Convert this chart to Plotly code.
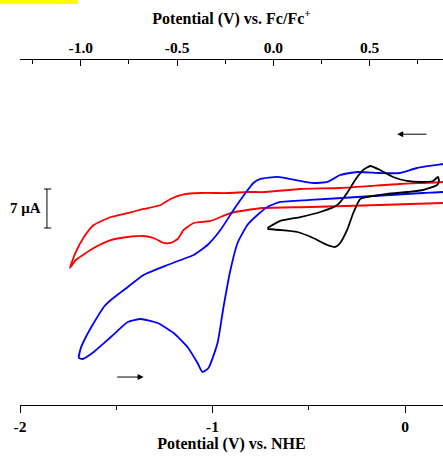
import plotly.graph_objects as go

# Potential (V vs NHE) and current (uA) for each voltammogram
red_v = [0.233, 0.197, -0.026, -0.337, -0.544, -0.725, -0.819, -0.922, -1.062, -1.150, -1.218, -1.269,
         -1.358, -1.440, -1.528, -1.617, -1.668, -1.710, -1.741,
         -1.710, -1.617, -1.528, -1.440, -1.358, -1.306, -1.254, -1.218, -1.181, -1.150, -1.098,
         -1.010, -0.907, -0.819, -0.736, -0.492, -0.130, 0.197, 0.233]
red_i = [8.80, 8.62, 8.26, 7.54, 7.36, 6.82, 6.82, 6.64, 6.64, 6.40, 5.57, 4.49,
         3.77, 3.05, 2.33, 0.90, -1.26, -3.95, -6.82,
         -5.39, -3.23, -1.80, -1.26, -1.08, -1.44, -2.33, -2.33, -1.62, 0.0, 1.26,
         1.62, 3.05, 3.59, 3.95, 4.13, 4.49, 4.85, 4.85]

blue_v = [0.233, 0.197, 0.062, -0.026, -0.130, -0.249, -0.337, -0.404, -0.477, -0.544, -0.663,
          -0.751, -0.788, -0.829, -0.891, -0.959, -1.026, -1.098, -1.166, -1.233, -1.358, -1.440,
          -1.528, -1.565, -1.617, -1.658, -1.684, -1.694,
          -1.674, -1.617, -1.528, -1.440, -1.373, -1.285, -1.202, -1.130, -1.078, -1.052, -1.021,
          -0.974, -0.943, -0.907, -0.870, -0.819, -0.767, -0.715, -0.648, -0.492, -0.249, -0.078,
          0.093, 0.197, 0.233]
blue_i = [12.03, 11.85, 11.13, 10.23, 10.23, 10.41, 9.87, 8.62, 8.44, 8.80, 9.52,
          9.16, 8.44, 6.64, 3.59, 0.0, -2.69, -4.49, -5.39, -6.28, -8.08, -10.23,
          -12.57, -13.82, -16.70, -19.21, -21.18, -22.98,
          -23.16, -21.90, -19.21, -16.52, -15.98, -16.70, -18.49, -21.01, -23.88, -25.49, -24.78,
          -20.29, -13.82, -7.18, -2.33, 0.90, 2.69, 4.13, 5.03, 5.39, 5.92, 6.28,
          6.64, 6.82, 7.00]

black_v = [-0.715, -0.648, -0.544, -0.440, -0.352, -0.301, -0.259, -0.218, -0.181, -0.130, -0.062,
           0.010, 0.078, 0.145, 0.171, 0.176, 0.166, 0.093, 0.010, -0.093, -0.197, -0.233,
           -0.269, -0.301, -0.337, -0.363, -0.404, -0.477, -0.560, -0.648, -0.715]
black_i = [0.36, 1.62, 2.33, 3.23, 4.49, 6.64, 8.98, 10.77, 11.49, 10.77, 9.52,
           8.80, 8.62, 8.80, 9.52, 8.80, 8.08, 7.18, 6.82, 6.46, 5.92, 5.57,
           3.05, 0.0, -2.33, -3.05, -2.69, -1.44, -0.36, 0.0, 0.18]

nhe_ticks = [-2, -1, 0]
nhe_labels = ["-2", "-1", "0"]
fc_ticks = [-1.0, -0.5, 0.0, 0.5]
fc_labels = ["-1.0", "-0.5", "0.0", "0.5"]
fc_offset = 0.684  # Fc/Fc+ = NHE + offset

scale_bar_ua = 7

x_range = [-2.0, 0.197]
y_range = [-31.42, 30.52]

FONT = "Liberation Serif"

fig = go.Figure()
for v, i, c in [(red_v, red_i, "#ff0000"), (blue_v, blue_i, "#0000ff"), (black_v, black_i, "#000000")]:
    fig.add_trace(go.Scatter(x=v, y=i, mode="lines", line=dict(color=c, width=1.8, shape="spline", smoothing=0.5),
                             showlegend=False, hoverinfo="skip"))

# invisible trace on top axis
fig.add_trace(go.Scatter(x=[x_range[0] + fc_offset], y=[0], xaxis="x2", mode="markers",
                         marker=dict(opacity=0), showlegend=False, hoverinfo="skip"))

tickfont = dict(family=FONT, size=15.5, color="black", weight="bold")
titlefont = dict(family=FONT, size=16, color="black", weight="bold")
fig.update_layout(
    width=443, height=457,
    margin=dict(l=20, r=0, t=60, b=52),
    paper_bgcolor="white", plot_bgcolor="white",
    xaxis=dict(range=x_range, tickvals=nhe_ticks, ticktext=nhe_labels, ticks="outside", ticklen=7,
               tickcolor="black", showline=True, linecolor="black", linewidth=1, showgrid=False,
               zeroline=False, tickfont=tickfont,
               minor=dict(tickvals=[-1.5, -0.5], ticks="outside", ticklen=4, tickcolor="black"),
               title=dict(text="Potential (V) vs. NHE", font=titlefont, standoff=4)),
    xaxis2=dict(range=[x_range[0] + fc_offset, x_range[1] + fc_offset], overlaying="x", side="top",
                tickvals=fc_ticks, ticktext=fc_labels, ticks="inside", ticklen=6, tickcolor="black",
                showline=True, linecolor="black", linewidth=1, showgrid=False, zeroline=False,
                tickfont=tickfont,
                minor=dict(tickvals=[-1.25, -0.75, -0.25, 0.25, 0.75], ticks="inside", ticklen=4, tickcolor="black"),
                title=dict(text="Potential (V) vs. Fc/Fc<sup>+</sup>", font=titlefont, standoff=10)),
    yaxis=dict(range=y_range, visible=False),
)

# scale bar
bar_x = -1.860
fig.add_shape(type="line", xref="x", yref="y", x0=bar_x, x1=bar_x, y0=0.36, y1=0.36 + scale_bar_ua,
              line=dict(color="black", width=1))
for yy in [0.36, 0.36 + scale_bar_ua]:
    fig.add_shape(type="line", xref="x", yref="y", x0=bar_x - 0.015, x1=bar_x + 0.022, y0=yy, y1=yy,
                  line=dict(color="black", width=1))
fig.add_annotation(x=bar_x - 0.02, y=0.36 + scale_bar_ua / 2, xref="x", yref="y", text=f"{scale_bar_ua} μA",
                   showarrow=False, xanchor="right", font=dict(family=FONT, size=15, color="black", weight="bold"))

# scan direction arrows
fig.add_annotation(x=-1.358, y=-26.4, ax=-1.503, ay=-26.4, xref="x", yref="y", axref="x", ayref="y",
                   text="", showarrow=True, arrowhead=2, arrowsize=1.2, arrowwidth=1, arrowcolor="black")
fig.add_annotation(x=-0.041, y=17.2, ax=0.119, ay=17.2, xref="x", yref="y", axref="x", ayref="y",
                   text="", showarrow=True, arrowhead=2, arrowsize=1.2, arrowwidth=1, arrowcolor="black")

# yellow highlight at top-left corner
fig.add_shape(type="rect", xref="paper", yref="paper", x0=-0.0473, x1=0.137, y0=1.162, y1=1.18,
              fillcolor="#ffff00", line=dict(width=0), layer="above")

fig.write_html("out.html")
